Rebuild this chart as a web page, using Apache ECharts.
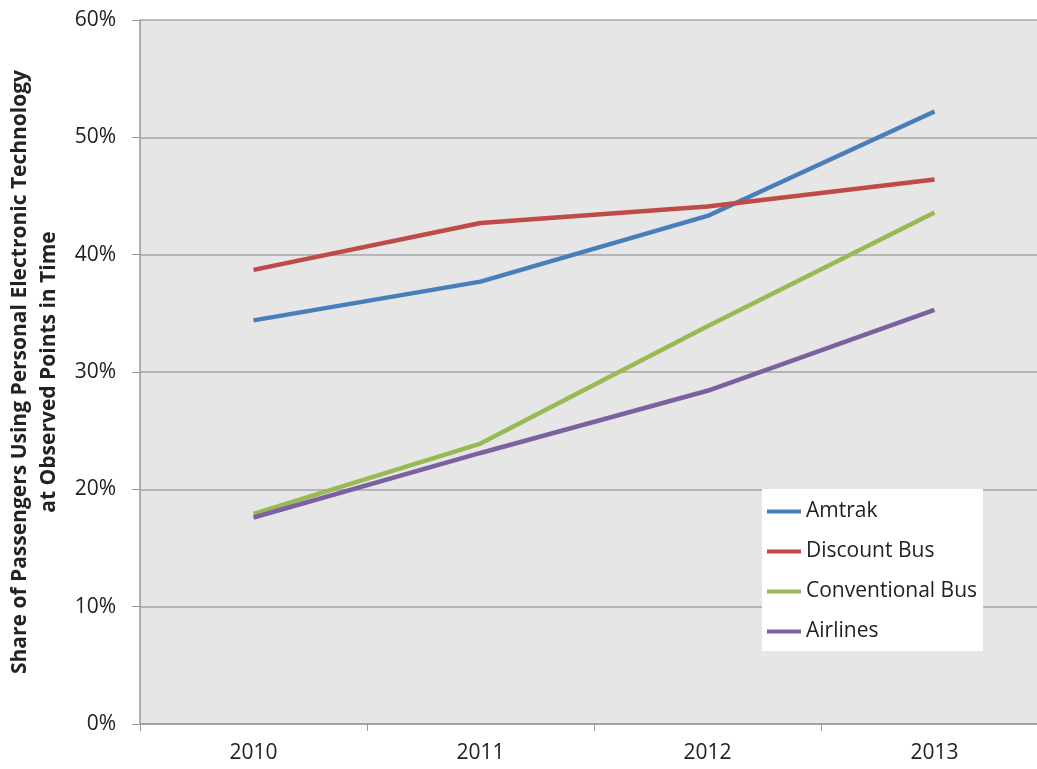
<!DOCTYPE html>
<html>
<head>
<meta charset="utf-8">
<script src="https://cdn.jsdelivr.net/npm/echarts@6/dist/echarts.min.js"></script>
<style>html,body{margin:0;padding:0;background:#fff}#c{width:1037px;height:769px}</style>
</head>
<body>
<div id="c"></div>
<script>
const categories = ['2010', '2011', '2012', '2013'];
const amtrak = [34.4, 37.7, 43.3, 52.2];
const discountBus = [38.7, 42.7, 44.1, 46.4];
const conventionalBus = [17.9, 23.9, 33.9, 43.6];
const airlines = [17.6, 23.1, 28.4, 35.3];
const seriesNames = ['Amtrak', 'Discount Bus', 'Conventional Bus', 'Airlines'];
const colors = ['#4a7ebb', '#be4b48', '#98b954', '#7d60a0'];
const yTitle = 'Share of Passengers Using Personal Electronic Technology\nat Observed Points in Time';

const font = '"Open Sans", sans-serif';
const chart = echarts.init(document.getElementById('c'));
const mk = (name, data, i) => ({
  name, type: 'line', data, symbol: 'none', smooth: false,
  lineStyle: { color: colors[i], width: 4.5 }, itemStyle: { color: colors[i] }
});
chart.setOption({
  animation: false,
  color: colors,
  grid: { left: 140, top: 20, height: 704, width: 908, outerBoundsMode: 'none', containLabel: false, show: true, backgroundColor: '#e6e6e6', borderWidth: 0 },
  legend: {
    orient: 'vertical', left: 762, top: 489,
    backgroundColor: '#ffffff', padding: [12, 6, 9, 5],
    icon: 'rect', itemWidth: 34, itemHeight: 4, itemGap: 19,
    textStyle: { fontFamily: font, fontSize: 21, color: '#222', lineHeight: 21 },
    data: seriesNames
  },
  xAxis: {
    type: 'category', data: categories, boundaryGap: true,
    axisLine: { lineStyle: { color: '#999', width: 1.5 } },
    axisTick: { show: true, length: 7, lineStyle: { color: '#999' } },
    axisLabel: { fontFamily: font, fontSize: 21, color: '#222', margin: 19 },
    splitLine: { show: false }
  },
  yAxis: {
    type: 'value', min: 0, max: 60, interval: 10,
    name: yTitle, nameLocation: 'middle', nameRotate: 90, nameGap: 72,
    nameTextStyle: { fontFamily: font, fontSize: 21, fontWeight: 'bold', color: '#222', lineHeight: 29 },
    axisLine: { show: true, lineStyle: { color: '#999', width: 1.5 } },
    axisTick: { show: true, length: 8, lineStyle: { color: '#999' } },
    axisLabel: { fontFamily: font, fontSize: 21, color: '#222', margin: 24, formatter: v => v + '%' },
    splitLine: { show: true, lineStyle: { color: '#a6a6a6', width: 1.5 } }
  },
  series: [
    mk(seriesNames[0], amtrak, 0),
    mk(seriesNames[1], discountBus, 1),
    mk(seriesNames[2], conventionalBus, 2),
    mk(seriesNames[3], airlines, 3)
  ]
});
</script>
</body>
</html>
